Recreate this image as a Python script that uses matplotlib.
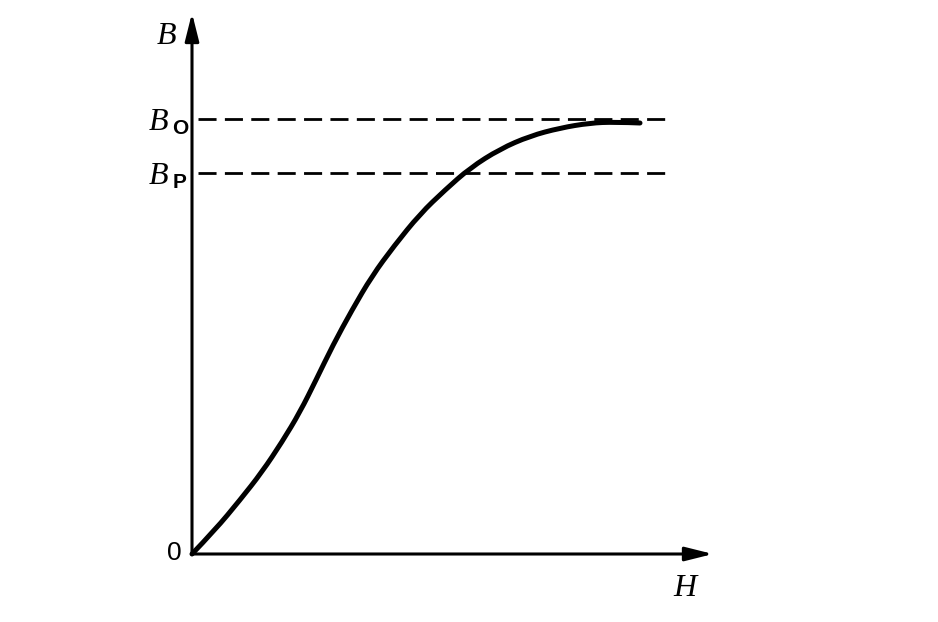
import matplotlib

matplotlib.use("Agg")

import matplotlib.pyplot as plt
from matplotlib.patches import PathPatch
from matplotlib.path import Path

# B-H magnetisation curve (arbitrary units)
H_VALUES = [0.0, 0.46, 0.96, 1.40, 1.80, 2.16, 2.48, 2.82, 3.20, 3.60,
            4.04, 4.56, 5.06, 5.56, 6.16, 6.76, 7.36, 7.96, 8.46, 8.96]
B_VALUES = [0.0, 0.48, 1.08, 1.64, 2.24, 2.84, 3.48, 4.18, 4.88, 5.56,
            6.16, 6.80, 7.28, 7.72, 8.10, 8.36, 8.52, 8.62, 8.64, 8.62]

B_O = 8.70
B_P = 7.62
DASH_END = 9.52

H_MAX = 10.42
B_MAX = 10.82

SERIF_IT = dict(family="Liberation Serif", style="italic", fontsize=23)
SUB = dict(family="Liberation Sans", fontweight="bold", fontsize=15)


def smooth_path(xs, ys) -> Path:
    # quadratic bezier through midpoints, read points act as control points
    pts = list(zip(xs, ys))
    verts = [pts[0]]
    codes = [Path.MOVETO]
    for i in range(1, len(pts) - 1):
        nxt = pts[i + 1] if i == len(pts) - 2 else (
            (pts[i][0] + pts[i + 1][0]) / 2, (pts[i][1] + pts[i + 1][1]) / 2)
        verts += [pts[i], nxt]
        codes += [Path.CURVE3, Path.CURVE3]
    return Path(verts, codes)


def main() -> None:
    fig = plt.figure(figsize=(9.38, 6.22), dpi=100)
    ax = fig.add_axes([192 / 938, (622 - 554) / 622, (713 - 192) / 938, (554 - 13) / 622])
    ax.set_xlim(0, H_MAX)
    ax.set_ylim(0, B_MAX)
    ax.set_axis_off()

    # axes with arrow heads
    arrow = dict(arrowstyle="-|>,head_length=0.4,head_width=0.1", mutation_scale=42,
                 color="black", lw=2.2, shrinkA=0, shrinkB=0)
    ax.annotate("", xy=(H_MAX, 0), xytext=(0, 0), arrowprops=arrow, annotation_clip=False)
    ax.annotate("", xy=(0, B_MAX), xytext=(0, 0), arrowprops=arrow, annotation_clip=False)

    # saturation levels
    for level in (B_O, B_P):
        ax.plot([0.12, DASH_END], [level, level], color="black", lw=2.0,
                dashes=(6.5, 3), solid_capstyle="butt", clip_on=False)

    curve = PathPatch(smooth_path(H_VALUES, B_VALUES), fill=False, edgecolor="black",
                      lw=3.6, capstyle="round", joinstyle="round", clip_on=False)
    ax.add_patch(curve)

    # labels
    ax.annotate("B", xy=(0, B_MAX), xytext=(-26, -24), textcoords="offset pixels",
                ha="center", va="center", **SERIF_IT)
    ax.annotate("H", xy=(H_MAX, 0), xytext=(-28, -34), textcoords="offset pixels",
                ha="center", va="center", **SERIF_IT)
    ax.annotate("0", xy=(0, 0), xytext=(-18, 1), textcoords="offset pixels",
                ha="center", va="center", family="Liberation Sans", fontsize=19)

    for level, sub in ((B_O, "O"), (B_P, "P")):
        ax.annotate("B", xy=(0, level), xytext=(-34, -3), textcoords="offset pixels",
                    ha="center", va="center", **SERIF_IT)
        ax.annotate(sub, xy=(0, level), xytext=(-12, -9), textcoords="offset pixels",
                    ha="center", va="center", **SUB)

    fig.savefig("out.png", dpi=100)
    plt.close(fig)


if __name__ == "__main__":
    main()
